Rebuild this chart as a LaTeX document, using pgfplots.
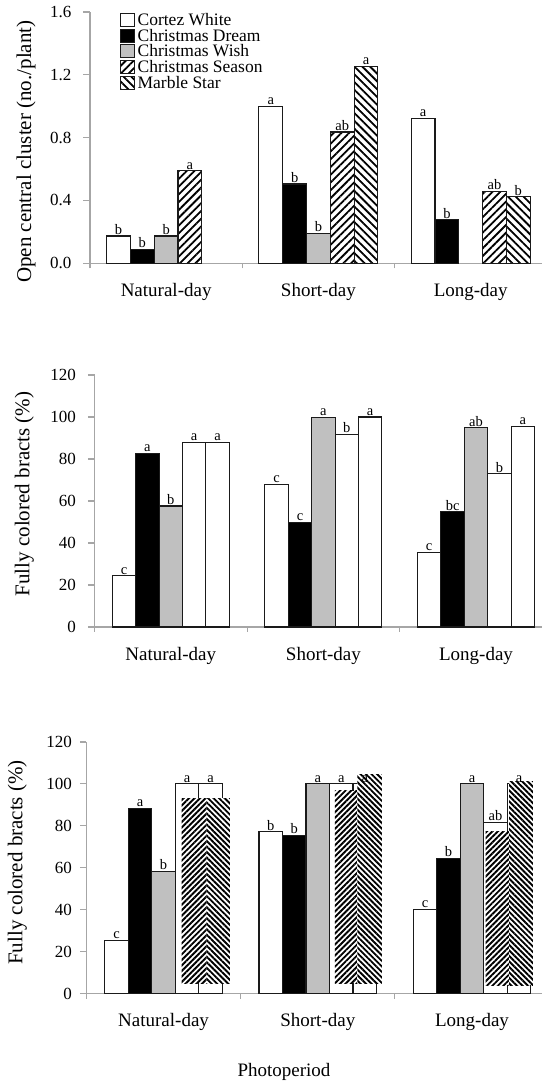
\documentclass[border=0pt]{standalone}
\usepackage{fontspec}
\setmainfont{Liberation Serif}
\usepackage{pgfplots}
\pgfplotsset{compat=1.18}
\usetikzlibrary{patterns.meta}
\definecolor{axisgray}{HTML}{A6A6A6}
\definecolor{bargray}{HTML}{C0C0C0}
\definecolor{edge}{HTML}{1A1A1A}

\pgfplotsset{
  base/.style={
    scale only axis,
    axis lines=left,
    axis line style={-, draw=axisgray, line width=1.1pt},
    tick align=outside,
    major tick length=6.5pt,
    tick style={draw=axisgray, line width=1.1pt},
    xtick style={/pgfplots/major tick length=5pt},
    xmin=-0.5,
    xtick={-0.5,0.5,1.5,2.5},
    xticklabels={},
    extra x ticks={0,1,2},
    extra x tick labels={Natural-day,Short-day,Long-day},
    extra x tick style={major tick length=0pt, xtick style={/pgfplots/major tick length=0pt, draw=none}},
    xticklabel style={anchor=base, yshift=-33.4pt, font=\fontsize{19}{19}\selectfont, inner sep=0pt},
    yticklabel style={anchor=east, font=\fontsize{17}{17}\selectfont, inner sep=0pt},
    /pgf/number format/assume math mode=true,
    ylabel style={font=\fontsize{21}{21}\selectfont, anchor=center},
    every node near coord/.style={anchor=south, inner sep=0pt, yshift=1pt, font=\fontsize{14.5}{14.5}\selectfont, text=black},
    clip=false,
  },
  bb/.style 2 args={ybar, bar width=#1, bar shift=#2, draw=edge, line width=1.1pt, nodes near coords, point meta=explicit symbolic, every node near coord/.append style={xshift=#2}},
  lb/.style 2 args={ybar, bar width=#1, bar shift=#2, draw=none, fill=none, nodes near coords, point meta=explicit symbolic, every node near coord/.append style={xshift=#2}},
}

\begin{document}
\begin{tikzpicture}
\useasboundingbox (0,0) rectangle (542pt,1081pt);

% ---------- Panel 1 ----------
\begin{axis}[base,
  at={(90pt,817.7pt)}, anchor=south west,
  width=452pt, height=251.3pt,
  xmax=2.468, ymin=0, ymax=1.6,
  ytick={0,0.4,0.8,1.2,1.6},
  yticklabel style={xshift=-12pt, /pgf/number format/.cd, fixed, fixed zerofill, precision=1},
  ylabel={Open central cluster (no./plant)},
  ylabel style={at={(axis description cs:-0.1416,0.444)}},
  legend style={draw=none, fill=none, at={(axis description cs:0.0664,0.997)}, anchor=north west,
    row sep=1.6pt, column sep=2.3pt, inner sep=0pt, font=\fontsize{17.5}{17.5}\selectfont,
    nodes={inner sep=0pt}},
  legend cell align=left,
  legend image code/.code={\draw[#1, line width=1.1pt] (0pt,-6.5pt) rectangle (14pt,6.5pt);},
]
\addplot[bb={23.8pt}{-47.6pt}, fill=white] coordinates {(0,0.174)[b] (1,1.0)[a] (2,0.923)[a]};
\addlegendentry{Cortez White}
\addplot[bb={23.8pt}{-23.8pt}, fill=black] coordinates {(0,0.089)[b] (1,0.505)[b] (2,0.276)[b]};
\addlegendentry{Christmas Dream}
\addplot[bb={23.8pt}{0pt}, fill=bargray] coordinates {(0,0.174)[b] (1,0.19)[b]};
\addlegendentry{Christmas Wish}
\addplot[bb={23.8pt}{23.8pt}, fill=white, postaction={pattern={Lines[angle=45,distance=5.5pt,line width=1.8pt]}}] coordinates {(0,0.588)[a] (1,0.836)[ab] (2,0.458)[ab]};
\addlegendentry{Christmas Season}
\addplot[bb={23.8pt}{47.6pt}, fill=white, postaction={pattern={Lines[angle=-45,distance=5.5pt,line width=1.8pt]}}] coordinates {(1,1.252)[a] (2,0.424)[b]};
\addlegendentry{Marble Star}
\end{axis}

% ---------- Panel 2 ----------
\begin{axis}[base,
  at={(94.5pt,454pt)}, anchor=south west,
  width=447.5pt, height=252pt,
  xmax=2.4325, ymin=0, ymax=120,
  ytick={0,20,40,60,80,100,120},
  yticklabel style={xshift=-12pt},
  ylabel={Fully colored bracts (\%)},
  ylabel style={at={(axis description cs:-0.157,0.528)}},
]
\addplot[bb={23.4pt}{-46.8pt}, fill=white] coordinates {(0,24.4)[c] (1,67.8)[c] (2,35.6)[c]};
\addplot[bb={23.4pt}{-23.4pt}, fill=black] coordinates {(0,82.7)[a] (1,49.7)[c] (2,54.9)[bc]};
\addplot[bb={23.4pt}{0pt}, fill=bargray] coordinates {(0,57.6)[b] (1,99.8)[a] (2,94.9)[ab]};
\addplot[bb={23.4pt}{23.4pt}, fill=white] coordinates {(0,87.8)[a] (1,91.6)[b] (2,73.0)[b]};
\addplot[bb={23.4pt}{46.8pt}, fill=white] coordinates {(0,87.8)[a] (1,100)[a] (2,95.4)[a]};
\end{axis}

% ---------- Panel 3 ----------
\begin{axis}[base,
  at={(86.5pt,87.5pt)}, anchor=south west,
  width=455.5pt, height=251.5pt,
  xmax=2.454, ymin=0, ymax=120,
  ytick={0,20,40,60,80,100,120},
  yticklabel style={xshift=-8pt},
  ylabel={Fully colored bracts (\%)},
  ylabel style={at={(axis description cs:-0.152,0.521)}},
  xlabel={Photoperiod},
  xlabel style={at={(axis description cs:0.4336,-0.331)}, anchor=base, font=\fontsize{19}{19}\selectfont},
]
\addplot[bb={23.5pt}{-47pt}, fill=white] coordinates {(0,25.4)[c] (1,77.1)[b] (2,40.1)[c]};
\addplot[bb={23.5pt}{-23.5pt}, fill=black] coordinates {(0,88.2)[a] (1,75.4)[b] (2,64.4)[b]};
\addplot[bb={23.5pt}{0pt}, fill=bargray] coordinates {(0,58.2)[b] (1,100)[a] (2,100)[a]};
\addplot[ybar, bar width=23.5pt, bar shift=23.5pt, draw=edge, line width=1.1pt, fill=white] coordinates {(0,100) (1,100) (2,81.8)};
\addplot[ybar, bar width=23.5pt, bar shift=47pt, draw=edge, line width=1.1pt, fill=white] coordinates {(0,100) (1,100) (2,100)};
% hatched overlays
\addplot[draw=none, no markers, forget plot, preaction={fill=white}, pattern={Lines[angle=45,distance=3.9pt,line width=1.9pt]}] coordinates {(0.117,4.9) (0.117,93.1) (0.2795,93.1) (0.2795,4.9)} -- cycle;
\addplot[draw=none, no markers, forget plot, preaction={fill=white}, pattern={Lines[angle=-45,distance=3.9pt,line width=1.9pt]}] coordinates {(0.2795,4.9) (0.2795,93.1) (0.4306,93.1) (0.4306,4.9)} -- cycle;
\addplot[draw=none, no markers, forget plot, preaction={fill=white}, pattern={Lines[angle=45,distance=3.9pt,line width=1.9pt]}] coordinates {(1.1115,4.9) (1.1115,96.8) (1.256,96.8) (1.256,4.9)} -- cycle;
\addplot[draw=none, no markers, forget plot, preaction={fill=white}, pattern={Lines[angle=-45,distance=3.9pt,line width=1.9pt]}] coordinates {(1.256,4.9) (1.256,104.7) (1.416,104.7) (1.416,4.9)} -- cycle;
\addplot[draw=none, no markers, forget plot, preaction={fill=white}, pattern={Lines[angle=45,distance=3.9pt,line width=1.9pt]}] coordinates {(2.0888,4.0) (2.0888,77.2) (2.240,77.2) (2.240,4.0)} -- cycle;
\addplot[draw=none, no markers, forget plot, preaction={fill=white}, pattern={Lines[angle=-45,distance=3.9pt,line width=1.9pt]}] coordinates {(2.240,4.0) (2.240,101) (2.394,101) (2.394,4.0)} -- cycle;
% letters for the white bars, drawn above the overlays
\addplot[lb={23.5pt}{23.5pt}] coordinates {(0,100)[a] (1,100)[a] (2,81.8)[ab]};
\addplot[lb={23.5pt}{47pt}] coordinates {(0,100)[a] (1,100)[a] (2,100)[a]};
\end{axis}
\end{tikzpicture}
\end{document}
